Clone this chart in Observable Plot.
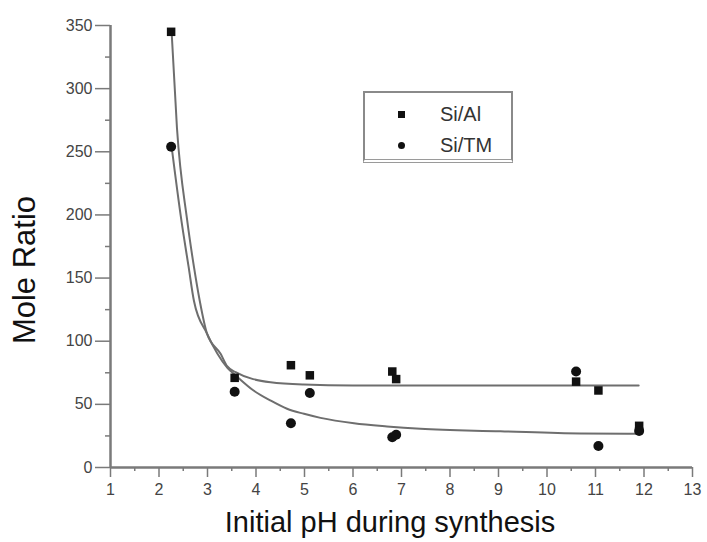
<!DOCTYPE html>
<html><head><meta charset="utf-8">
<script src="https://cdn.jsdelivr.net/npm/d3@7"></script>
<script src="https://cdn.jsdelivr.net/npm/@observablehq/plot@0.6"></script>
<style>
body{margin:0;background:#fff;}
#wrap{position:relative;width:707px;height:542px;font-family:"Liberation Sans",Arial,sans-serif;}
#wrap svg{position:absolute;left:0;top:0;}
.ytitle{position:absolute;left:25px;top:270px;transform:translate(-50%,-50%) rotate(-90deg);font-size:31px;color:#111;white-space:nowrap;}
.xtitle{position:absolute;left:390px;top:522px;transform:translate(-50%,-50%);font-size:29px;color:#111;white-space:nowrap;}
.legend{position:absolute;left:363px;top:91px;width:146px;height:66px;border:2px solid #8a8a8a;border-bottom:4px double #9a9a9a;background:#fff;}
.legend .row{position:absolute;left:0;height:24px;font-size:20px;color:#333;}
.legend .sym{position:absolute;background:#111;}
.legend .lab{position:absolute;left:75px;top:0;line-height:24px;}
</style></head><body><div id="wrap"></div>
<script>
// axis ticks
const xTicks = [1,2,3,4,5,6,7,8,9,10,11,12,13];
const xMinor = [1.5,2.5,3.5,4.5,5.5,6.5,7.5,8.5,9.5,10.5,11.5,12.5];
const yTicks = [0,50,100,150,200,250,300,350];
const yMinor = [25,75,125,175,225,275,325];

// measured points
const siAlPH    = [2.25, 3.56, 4.72, 5.11, 6.81, 6.89, 10.6, 11.06, 11.9];
const siAlRatio = [345,  71,   81,   73,   76,   70,   68,   61,    33];
const siTmPH    = [2.25, 3.56, 4.72, 5.11, 6.81, 6.89, 10.6, 11.06, 11.9];
const siTmRatio = [254,  60,   35,   59,   24,   26,   76,   17,    29];

// fitted curves
const fitAlPH    = [2.26, 2.37, 2.58, 2.72, 2.84, 2.99, 3.27, 3.41, 3.58, 4.30, 4.98, 6.0, 8.0, 10.0, 11.89];
const fitAlRatio = [345,  269,  196,  159,  132,  106,  90,   80,   75.5, 67.5, 65.7, 65,  65,  65,   65];
const fitTmPH    = [2.26, 2.46, 2.61, 2.72, 2.99, 3.41, 3.58, 3.95, 4.30, 4.64, 4.99, 5.33, 6.02, 6.70, 7.39, 9.04, 10.69, 11.86];
const fitTmRatio = [254,  196,  159,  132,  106,  79,   73,   61,   53,   46.5, 42.5, 39.3, 35,   32.5, 30.6, 28.7, 26.9,  26.7];

const seriesNames = ["Si/Al", "Si/TM"];

const pts = [
  ...siAlPH.map((x,i)=>({x, y: siAlRatio[i], s: seriesNames[0]})),
  ...siTmPH.map((x,i)=>({x, y: siTmRatio[i], s: seriesNames[1]}))
];
const fits = [
  ...fitAlPH.map((x,i)=>({x, y: fitAlRatio[i], s: seriesNames[0]})),
  ...fitTmPH.map((x,i)=>({x, y: fitTmRatio[i], s: seriesNames[1]}))
];

const axisColor = "#7a7a7a";
const chart = Plot.plot({
  width: 707, height: 542,
  marginLeft: 110, marginRight: 15, marginTop: 25, marginBottom: 75,
  x: {domain: [1, 13]},
  y: {domain: [0, 350]},
  style: {fontFamily: "'Liberation Sans', Arial, sans-serif", background: "#fff"},
  marks: [
    Plot.axisY(yTicks, {tickSize: 15, tickPadding: 3, fontSize: 16, fill: "#444", stroke: axisColor, strokeWidth: 1.5, label: null}),
    Plot.axisY(yMinor, {tickSize: 5, text: null, stroke: axisColor, strokeWidth: 1.5, label: null}),
    Plot.axisX(xTicks, {tickSize: 10, tickPadding: 6, fontSize: 16, fill: "#444", stroke: axisColor, strokeWidth: 1.5, label: null}),
    Plot.axisX(xMinor, {tickSize: 4, text: null, stroke: axisColor, strokeWidth: 1.5, label: null}),
    Plot.ruleX([1], {stroke: axisColor, strokeWidth: 2.5}),
    Plot.ruleY([0], {stroke: axisColor, strokeWidth: 2.5}),
    Plot.line(fits, {x: "x", y: "y", z: "s", stroke: "#6e6e6e", strokeWidth: 2, curve: "monotone-x"}),
    Plot.dot(pts.filter(d => d.s === seriesNames[0]), {x: "x", y: "y", symbol: "square", r: 4.8, fill: "#111", stroke: "none"}),
    Plot.dot(pts.filter(d => d.s === seriesNames[1]), {x: "x", y: "y", symbol: "circle", r: 5, fill: "#111", stroke: "none"})
  ]
});
const wrap = document.getElementById("wrap");
wrap.appendChild(chart);

const yt = document.createElement("div"); yt.className = "ytitle"; yt.textContent = "Mole Ratio"; wrap.appendChild(yt);
const xt = document.createElement("div"); xt.className = "xtitle"; xt.textContent = "Initial pH during synthesis"; wrap.appendChild(xt);

const lg = document.createElement("div"); lg.className = "legend";
seriesNames.forEach((name, i) => {
  const row = document.createElement("div"); row.className = "row"; row.style.top = (9 + i * 31) + "px"; row.style.width = "100%";
  const sym = document.createElement("div"); sym.className = "sym";
  sym.style.width = "7px"; sym.style.height = "7px"; sym.style.left = "33px"; sym.style.top = "9px";
  if (i === 1) sym.style.borderRadius = "50%";
  const lab = document.createElement("div"); lab.className = "lab"; lab.textContent = name;
  row.appendChild(sym); row.appendChild(lab); lg.appendChild(row);
});
wrap.appendChild(lg);
</script></body></html>
